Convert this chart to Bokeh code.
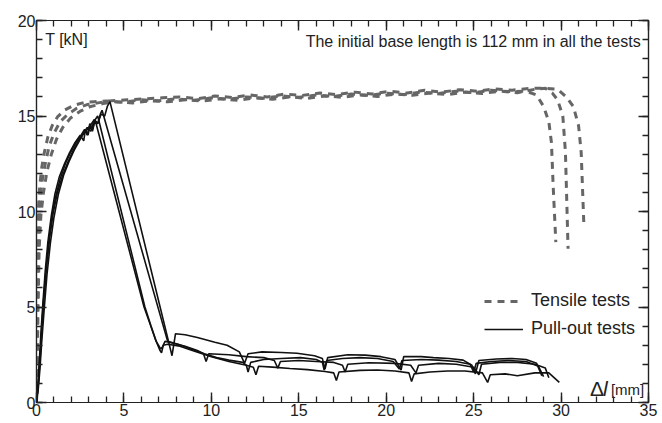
from bokeh.plotting import figure
from bokeh.models import (Range1d, LinearAxis, SingleIntervalTicker, Legend, LegendItem,
                          Label, CustomJSTickFormatter)
from bokeh.embed import file_html
from bokeh.resources import INLINE

# ---------------- data ----------------
x_ticks_interval = 5
y_ticks_interval = 5

# Tensile tests (dashed gray)
t1_x = [0, 0.03, 0.06, 0.1, 0.18, 0.3, 0.45, 0.65, 0.9, 1.2, 1.6, 2.1, 2.7, 3.3, 4.0, 5, 6, 7, 8, 9, 10,
        11, 12, 13, 14, 15, 16, 17, 18, 19, 20, 21, 22, 23, 24, 25, 26, 27, 28, 28.6, 29.0, 29.3, 29.45,
        29.55, 29.7]
t1_y = [0, 3.5, 7.5, 10.0, 11.3, 12.3, 13.1, 13.9, 14.5, 14.95, 15.3, 15.55, 15.7, 15.75, 15.78, 15.72,
        15.85, 15.8, 15.9, 15.82, 15.95, 15.88, 16.0, 15.93, 16.05, 15.98, 16.1, 16.02, 16.15, 16.08, 16.2,
        16.12, 16.25, 16.18, 16.3, 16.22, 16.35, 16.28, 16.3, 16.1, 15.5, 14.7, 13.6, 11.3, 8.4]

t2_x = [0, 0.05, 0.1, 0.15, 0.25, 0.4, 0.6, 0.85, 1.15, 1.5, 1.95, 2.5, 3.1, 3.8, 4.5, 5.5, 6.5, 7.5, 8.5,
        9.5, 10.5, 11.5, 12.5, 13.5, 14.5, 15.5, 16.5, 17.5, 18.5, 19.5, 20.5, 21.5, 22.5, 23.5, 24.5, 25.5,
        26.5, 27.5, 28.5, 29.1, 29.5, 29.8, 30.1, 30.25, 30.4]
t2_y = [0, 2.5, 5.5, 8.0, 9.8, 11.0, 12.1, 13.0, 13.8, 14.4, 14.9, 15.25, 15.5, 15.65, 15.75, 15.68, 15.8,
        15.74, 15.85, 15.78, 15.9, 15.82, 15.95, 15.88, 16.0, 15.92, 16.05, 15.98, 16.1, 16.02, 16.15, 16.08,
        16.2, 16.12, 16.25, 16.18, 16.3, 16.22, 16.4, 16.45, 16.2, 15.85, 15.0, 13.1, 8.05]

t3_x = [0, 0.04, 0.08, 0.13, 0.2, 0.32, 0.5, 0.72, 1.0, 1.35, 1.8, 2.3, 2.9, 3.6, 4.3, 5.2, 6.2, 7.2, 8.2,
        9.2, 10.2, 11.2, 12.2, 13.2, 14.2, 15.2, 16.2, 17.2, 18.2, 19.2, 20.2, 21.2, 22.2, 23.2, 24.2, 25.2,
        26.2, 27.2, 28.2, 29.0, 29.8, 30.3, 30.7, 31.0, 31.15, 31.3]
t3_y = [0, 3.0, 6.5, 9.0, 10.5, 11.6, 12.5, 13.4, 14.1, 14.7, 15.1, 15.4, 15.6, 15.7, 15.8, 15.85, 15.9,
        15.95, 16.0, 15.9, 16.05, 15.97, 16.1, 16.0, 16.15, 16.08, 16.2, 16.12, 16.25, 16.15, 16.3, 16.2,
        16.35, 16.25, 16.38, 16.3, 16.42, 16.35, 16.45, 16.45, 16.4, 16.0, 15.5, 14.5, 13.1, 9.4]

# Pull-out tests (solid black)
p1_x = [0, 0.08, 0.15, 0.25, 0.35, 0.5, 0.65, 0.85, 1.05, 1.3, 1.6, 1.9, 2.2, 2.5, 2.7, 2.8, 2.95, 3.05,
        3.2, 3.35, 6.15, 6.5, 6.8, 7.05, 7.15, 7.25, 7.5, 8.2, 9.0, 10.0, 11.0, 12.0, 12.4, 12.55, 12.7,
        13.5, 14.5, 15.5, 16.5, 17.0, 17.15, 17.3, 18.5, 19.5, 20.5, 21.3, 21.45, 21.6, 22.5, 23.5, 24.5,
        25.5, 25.8, 25.95, 26.8, 27.5, 28.5, 29.3, 29.6, 29.9]
p1_y = [0, 0.8, 2.0, 3.6, 5.0, 6.9, 8.4, 9.8, 10.9, 11.8, 12.5, 13.1, 13.6, 14.0, 13.7, 14.3, 14.0, 14.5,
        14.2, 14.8, 5.0, 4.1, 3.3, 2.75, 2.6, 3.0, 3.05, 2.95, 2.7, 2.4, 2.15, 1.95, 1.85, 1.45, 1.9,
        1.85, 1.78, 1.72, 1.62, 1.55, 1.15, 1.6, 1.68, 1.7, 1.65, 1.55, 1.1, 1.5, 1.6, 1.65, 1.65,
        1.55, 1.05, 1.45, 1.5, 1.4, 1.55, 1.55, 1.3, 1.05]

p2_x = [0, 0.1, 0.2, 0.3, 0.4, 0.55, 0.7, 0.9, 1.1, 1.35, 1.65, 1.95, 2.25, 2.55, 2.75, 2.9, 3.05, 3.2,
        3.35, 3.5, 6.2, 6.55, 6.85, 7.1, 7.2, 7.35, 7.6, 8.5, 9.2, 9.55, 9.7, 9.85, 11.0, 12.0, 13.0, 13.6,
        13.8, 13.95, 15.0, 16.0, 17.0, 17.5, 17.65, 17.8, 19.0, 20.5, 21.4, 21.7, 21.85, 23.0, 24.0, 25.0,
        25.3, 25.45, 26.5, 27.5, 28.5, 29.1, 29.3]
p2_y = [0, 1.0, 2.4, 3.9, 5.3, 7.0, 8.4, 9.8, 10.8, 11.7, 12.5, 13.1, 13.6, 14.0, 14.3, 14.0, 14.6, 14.3,
        14.8, 15.0, 5.0, 4.0, 3.2, 2.8, 2.9, 3.2, 3.15, 2.95, 2.72, 2.55, 2.15, 2.55, 2.5, 2.4, 2.35, 2.2,
        1.8, 2.15, 2.2, 2.15, 2.1, 1.95, 1.6, 2.0, 2.08, 2.05, 1.95, 1.55, 1.95, 2.05, 2.0, 1.85,
        1.45, 2.0, 2.1, 2.1, 2.0, 1.8, 1.3]

p3_x = [0, 0.1, 0.2, 0.3, 0.45, 0.6, 0.8, 1.0, 1.25, 1.55, 1.85, 2.15, 2.45, 2.7, 2.9, 3.1, 3.3, 3.5, 3.65,
        3.75, 7.5, 8.1, 8.8, 9.6, 10.3, 11.0, 11.8, 12.0, 12.1, 12.25, 13.0, 14.0, 15.1, 16.0, 16.35, 16.45,
        16.6, 17.5, 18.5, 19.5, 20.4, 20.75, 20.9, 22.0, 23.0, 24.0, 24.8, 25.0, 25.15, 26.0, 27.0, 28.0,
        28.7, 29.0]
p3_y = [0, 0.7, 1.8, 3.2, 5.0, 6.7, 8.4, 9.7, 10.9, 11.9, 12.6, 13.2, 13.7, 14.1, 14.4, 14.2, 14.8, 14.6,
        15.1, 15.3, 3.2, 3.05, 2.82, 2.55, 2.35, 2.22, 2.1, 1.95, 1.6, 2.1, 2.25, 2.3, 2.35, 2.25, 2.1, 1.7,
        2.2, 2.3, 2.35, 2.3, 2.15, 1.75, 2.2, 2.25, 2.22, 2.15, 2.0, 1.6, 2.05, 2.15, 2.2, 2.15,
        1.9, 1.35]

p4_x = [0, 0.1, 0.2, 0.3, 0.4, 0.55, 0.75, 0.95, 1.2, 1.5, 1.8, 2.1, 2.4, 2.7, 3.0, 3.3, 3.5, 3.7, 3.9,
        4.05, 4.2, 7.75, 7.95, 8.5, 9.2, 10.2, 10.9, 11.6, 11.9, 12.1, 12.9, 14.0, 14.9, 15.9, 16.35, 16.5,
        16.65, 17.8, 18.8, 19.7, 20.5, 20.85, 21.0, 22.0, 22.7, 23.6, 24.4, 24.9, 25.1, 25.3, 26.3, 27.2,
        28.0, 28.6, 28.9]
p4_y = [0, 0.9, 2.2, 3.7, 5.2, 6.9, 8.6, 9.9, 11.0, 11.9, 12.6, 13.2, 13.7, 14.1, 14.4, 14.8, 14.6, 15.1,
        15.0, 15.5, 15.75, 2.45, 3.6, 3.55, 3.4, 3.15, 3.0, 2.65, 2.05, 2.55, 2.65, 2.62, 2.58, 2.45, 2.3,
        1.75, 2.35, 2.5, 2.48, 2.4, 2.25, 1.7, 2.4, 2.4, 2.35, 2.3, 2.22, 1.95, 1.5, 2.2, 2.28, 2.3,
        2.25, 2.05, 1.4]

tensile = [(t1_x, t1_y), (t2_x, t2_y), (t3_x, t3_y)]
pullout = [(p1_x, p1_y), (p2_x, p2_y), (p3_x, p3_y), (p4_x, p4_y)]

FONT = "Liberation Sans"
TXT = "#222222"
AX = "#222222"

p = figure(width=658, height=420, x_range=Range1d(0, 35), y_range=Range1d(0, 20),
           output_backend="svg", toolbar_location=None,
           min_border_left=36, min_border_right=10, min_border_top=20, min_border_bottom=18)
p.grid.visible = False
p.outline_line_color = AX
p.outline_line_width = 1.2
p.background_fill_color = "white"
p.border_fill_color = "white"


def style_axis(ax, labels=True):
    ax.axis_line_color = AX
    ax.axis_line_width = 1.2
    ax.major_tick_line_color = AX
    ax.minor_tick_line_color = AX
    ax.major_tick_line_width = 1.4
    ax.minor_tick_line_width = 1.3
    ax.major_tick_in = 10
    ax.major_tick_out = 0
    ax.minor_tick_in = 6
    ax.minor_tick_out = 0
    if labels:
        ax.major_label_text_font = FONT
        ax.major_label_text_font_size = "16px"
        ax.major_label_text_color = TXT
        ax.major_label_standoff = 1
    else:
        ax.formatter = CustomJSTickFormatter(code="return ''")
        ax.major_label_text_font_size = "0px"
        ax.major_label_standoff = 0


p.xaxis.ticker = SingleIntervalTicker(interval=x_ticks_interval, num_minor_ticks=5)
p.yaxis.ticker = SingleIntervalTicker(interval=y_ticks_interval, num_minor_ticks=5)
style_axis(p.xaxis[0])
style_axis(p.yaxis[0])

top_ax = LinearAxis(ticker=SingleIntervalTicker(interval=x_ticks_interval, num_minor_ticks=5))
right_ax = LinearAxis(ticker=SingleIntervalTicker(interval=y_ticks_interval, num_minor_ticks=5))
style_axis(top_ax, labels=False)
style_axis(right_ax, labels=False)
p.add_layout(top_ax, "above")
p.add_layout(right_ax, "right")

t_renderers = []
for xs, ys in tensile:
    r = p.line(xs, ys, line_color="#666666", line_width=3, line_dash="7 6")
    t_renderers.append(r)

p_renderers = []
for xs, ys in pullout:
    r = p.line(xs, ys, line_color="#111111", line_width=1.6)
    p_renderers.append(r)

legend = Legend(items=[LegendItem(label="Tensile tests", renderers=[t_renderers[0]]),
                       LegendItem(label="Pull-out tests", renderers=[p_renderers[0]])],
                location=(448, 63))
legend.label_text_font = FONT
legend.label_text_font_size = "18px"
legend.label_text_color = TXT
legend.glyph_width = 39
legend.glyph_height = 20
legend.label_height = 20
legend.label_standoff = 8
legend.spacing = 7
legend.padding = 0
legend.margin = 0
legend.border_line_color = None
legend.background_fill_alpha = 0
p.add_layout(legend)

p.add_layout(Label(x=0.5, y=19.0, text="T [kN]", text_font=FONT, text_font_size="16px",
                   text_color=TXT, text_baseline="middle", text_align="left"))
p.add_layout(Label(x=34.55, y=18.9, text="The initial base length is 112 mm in all the tests",
                   text_font=FONT, text_font_size="16px", text_color=TXT,
                   text_baseline="middle", text_align="right"))
p.add_layout(Label(x=31.65, y=0.75, text="Δ", text_font=FONT, text_font_size="21px",
                   text_color=TXT, text_baseline="middle", text_align="left"))
p.add_layout(Label(x=32.4, y=0.75, text="l", text_font=FONT, text_font_size="21px",
                   text_font_style="italic", text_color=TXT, text_baseline="middle", text_align="left"))
p.add_layout(Label(x=32.85, y=0.7, text="[mm]", text_font=FONT, text_font_size="15px",
                   text_color=TXT, text_baseline="middle", text_align="left"))

open("out.html", "w").write(file_html(p, INLINE))
